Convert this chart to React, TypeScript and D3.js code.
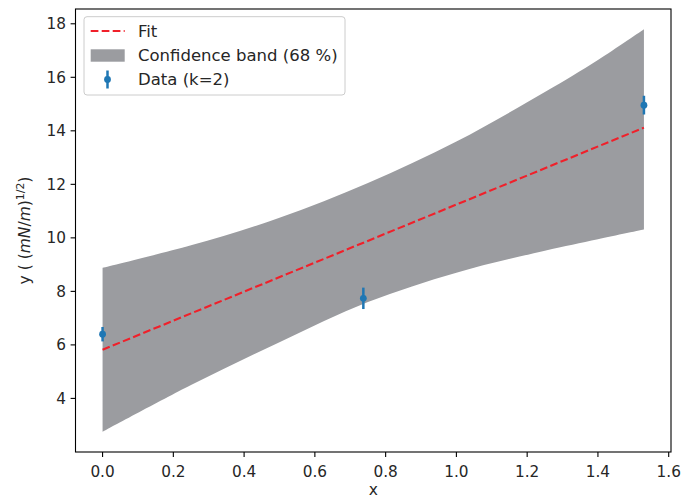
import React from 'react';
import * as d3 from 'd3';

// measured points (k=2 coverage)
const dataX = [0, 0.737, 1.53];
const dataY = [6.4, 7.74, 14.96];
const dataErr = [0.27, 0.4, 0.35];

// straight-line fit, end points
const fitX = [0, 1.53];
const fitY = [5.82, 14.12];

const bandX = [0, 0.25, 0.5, 0.75, 1.0, 1.25, 1.4, 1.53];
const bandUpper = [8.88, 9.72, 10.75, 12.05, 13.6, 15.45, 16.65, 17.8];
const bandLower = [2.75, 4.5, 6.1, 7.6, 8.7, 9.52, 9.95, 10.31];

const xTicks = [0, 0.2, 0.4, 0.6, 0.8, 1.0, 1.2, 1.4, 1.6];
const yTicks = [4, 6, 8, 10, 12, 14, 16, 18];

const W = 697;
const H = 500;
const left = 75.5;
const right = 671;
const top = 9;
const bottom = 452;
const FONT = 'DejaVu Sans, sans-serif';
const TICK_FS = 15.3;
const LEG_FS = 16.5;
const LAB_FS = 15.5;

const RED = '#f0202a';
const BLUE = '#1f77b4';
const GRAY = '#9b9ca0';
const TXT = '#262626';

export default function App() {
	// matplotlib style 5% margins
	const xExt = d3.extent(bandX) as [number, number];
	const xPad = (xExt[1] - xExt[0]) * 0.05;
	const yAll = [...bandUpper, ...bandLower, ...dataY];
	const yExt = d3.extent(yAll) as [number, number];
	const yPad = (yExt[1] - yExt[0]) * 0.05;

	const x = d3.scaleLinear().domain([xExt[0] - xPad, xExt[1] + xPad]).range([left, right]);
	const y = d3.scaleLinear().domain([yExt[0] - yPad, yExt[1] + yPad]).range([bottom, top]);

	const band = d3
		.area<number>()
		.x((d) => x(d))
		.y0((_, i) => y(bandLower[i]))
		.y1((_, i) => y(bandUpper[i]))
		.curve(d3.curveCatmullRom);

	const fitLine = d3
		.line<number>()
		.x((d) => x(d))
		.y((_, i) => y(fitY[i]));

	const fmtX = d3.format('.1f');

	return (
		<svg
			width={W}
			height={H}
			style={{ position: 'absolute', left: 0, top: 0, background: '#fff' }}
			fontFamily={FONT}
		>
			<rect x={0} y={0} width={W} height={H} fill="#fff" />
			<path d={band(bandX) || ''} fill={GRAY} />
			<path
				d={fitLine(fitX) || ''}
				fill="none"
				stroke={RED}
				strokeWidth={2.1}
				strokeDasharray="7.7,3.3"
			/>
			{dataX.map((d, i) => (
				<g key={i}>
					<line
						x1={x(d)}
						x2={x(d)}
						y1={y(dataY[i] - dataErr[i])}
						y2={y(dataY[i] + dataErr[i])}
						stroke={BLUE}
						strokeWidth={2.5}
					/>
					<circle cx={x(d)} cy={y(dataY[i])} r={3.4} fill={BLUE} />
				</g>
			))}

			{/* axes frame */}
			<rect
				x={left}
				y={top}
				width={right - left}
				height={bottom - top}
				fill="none"
				stroke="#000"
				strokeWidth={1.1}
			/>

			{xTicks.map((t) => (
				<g key={'x' + t}>
					<line x1={x(t)} x2={x(t)} y1={bottom} y2={bottom + 4.9} stroke="#000" strokeWidth={1.1} />
					<text x={x(t)} y={bottom + 24.5} textAnchor="middle" fontSize={TICK_FS} fill={TXT}>
						{fmtX(t)}
					</text>
				</g>
			))}
			{yTicks.map((t) => (
				<g key={'y' + t}>
					<line x1={left - 4.9} x2={left} y1={y(t)} y2={y(t)} stroke="#000" strokeWidth={1.1} />
					<text x={left - 9.5} y={y(t) + 5.5} textAnchor="end" fontSize={TICK_FS} fill={TXT}>
						{t}
					</text>
				</g>
			))}

			<text x={(left + right) / 2} y={495} textAnchor="middle" fontSize={LAB_FS} fill={TXT}>
				x
			</text>
			<text
				transform={`translate(30, ${(top + bottom) / 2}) rotate(-90)`}
				textAnchor="middle"
				fontSize={LAB_FS}
				fill={TXT}
			>
				<tspan>y ( (</tspan>
				<tspan fontStyle="italic">mN</tspan>
				<tspan>/</tspan>
				<tspan fontStyle="italic">m</tspan>
				<tspan>)</tspan>
				<tspan dy={-6.5} fontSize={LAB_FS * 0.7}>1/2</tspan>
				<tspan dy={6.5}>)</tspan>
			</text>

			{/* legend */}
			<g>
				<rect x={84} y={16.7} width={261} height={78.3} rx={3} fill="#fff" fillOpacity={0.8} stroke="#cccccc" strokeWidth={1} />
				<line x1={90.7} x2={124.7} y1={31} y2={31} stroke={RED} strokeWidth={2.1} strokeDasharray="7.7,3.3" />
				<text x={138} y={37} fontSize={LEG_FS} fill={TXT}>Fit</text>
				<rect x={90.7} y={49.3} width={34} height={12.4} fill={GRAY} />
				<text x={138} y={61} fontSize={LEG_FS} fill={TXT}>Confidence band (68 %)</text>
				<line x1={107.5} x2={107.5} y1={70.5} y2={88.5} stroke={BLUE} strokeWidth={2.5} />
				<circle cx={107.5} cy={79.5} r={3.4} fill={BLUE} />
				<text x={138} y={85} fontSize={LEG_FS} fill={TXT}>Data (k=2)</text>
			</g>
		</svg>
	);
}
